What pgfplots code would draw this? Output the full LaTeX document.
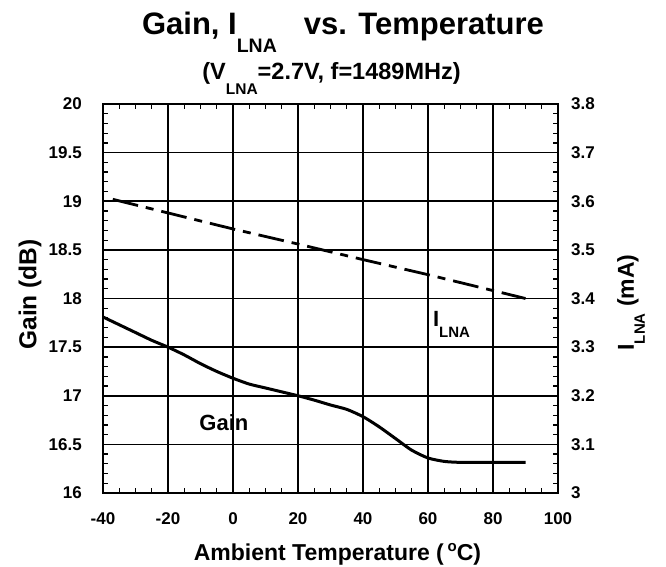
\documentclass[border=0pt]{standalone}
\usepackage{fontspec}
\setmainfont{Liberation Sans}
\usepackage{pgfplots}
\pgfplotsset{compat=1.18}
\newcommand{\fs}[1]{\fontsize{#1bp}{#1bp}\selectfont\bfseries}
\newcommand{\low}[3]{\raisebox{-#1bp}{\fs{#2}#3}}

\pgfplotstableread{
T     G
-40   17.81
-35   17.73
-30   17.65
-25   17.57
-20   17.50
-15   17.42
-10   17.33
-5    17.25
0     17.18
5     17.12
10    17.08
15    17.04
20    17.00
25    16.955
30    16.905
35    16.86
40    16.785
45    16.68
50    16.56
55    16.44
60    16.36
65    16.325
70    16.315
80    16.315
90    16.315
}\gain

\pgfplotstableread{
T     I
-37   3.604
0     3.543
20    3.512
40    3.480
60    3.449
90    3.400
}\ilna

\begin{document}
\begin{tikzpicture}
\useasboundingbox (-103bp,-74bp) rectangle (563bp,493bp);
\begin{axis}[
  name=main, at={(0,0)}, anchor=south west,
  scale only axis, width=455bp, height=389bp,
  xmin=-40, xmax=100, ymin=16, ymax=20,
  xtick={-40,-20,0,20,40,60,80,100},
  xticklabels={-40,-20,0,20,40,60,80,100},
  ytick={16,16.5,17,17.5,18,18.5,19,19.5,20},
  yticklabels={16,16.5,17,17.5,18,18.5,19,19.5,20},
  minor x tick num=3, minor y tick num=4,
  tick align=inside, major tick length=0pt, minor tick length=5bp,
  every tick/.style={black, line width=1.3bp},
  grid=major, major grid style={black, line width=1.6bp},
  axis line style={line width=2.6bp},
  axis on top,
  yticklabel pos=left,
  xticklabel style={font=\fs{17}, inner sep=0pt, anchor=base, yshift=-31bp},
  yticklabel style={font=\fs{17}, inner sep=0pt, anchor=east, xshift=-21bp},
  xlabel={Ambient Temperature (\,\raisebox{9bp}{\fs{15}o}C)},
  xlabel style={font=\fs{23}, at={(rel axis cs:0.5,0)}, anchor=base, yshift=-67bp, xshift=7bp},
  ylabel={Gain (dB)},
  ylabel style={font=\fs{24.5}, at={(rel axis cs:0,0.5)}, anchor=center, xshift=4bp, yshift=73bp},
]
\addplot[black, line width=3bp, smooth, tension=0.4] table[x=T, y=G] {\gain};
\node[font=\fs{22}] at (axis cs:-2.8,16.72) {Gain};
\node[font=\fs{22}, anchor=base west, inner sep=0pt] at (axis cs:61.5,17.71) {I\low{11}{15}{LNA}};
\end{axis}
\begin{axis}[
  at={(0,0)}, anchor=south west,
  scale only axis, width=455bp, height=389bp,
  xmin=-40, xmax=100, ymin=3, ymax=3.8,
  hide x axis, axis y line*=right,
  axis line style={draw=none},
  ytick={3,3.1,3.2,3.3,3.4,3.5,3.6,3.7,3.8},
  yticklabels={3,3.1,3.2,3.3,3.4,3.5,3.6,3.7,3.8},
  major tick length=0pt, minor tick num=0,
  ytick style={draw=none},
  yticklabel style={font=\fs{17}, inner sep=0pt, anchor=west, xshift=13bp},
  ylabel={I\low{11}{15}{LNA} (mA)},
  ylabel style={font=\fs{23}, at={(rel axis cs:1,0.5)}, anchor=center, xshift=-4bp, yshift=-73bp},
]
\addplot[black, line width=2.8bp, dash pattern=on 26bp off 8bp on 8bp off 8bp] table[x=T, y=I] {\ilna};
\end{axis}
\node[font=\fs{31}, anchor=base] at (240bp,458bp) {Gain, I\low{18}{19.5}{LNA}\hspace{27bp}vs. Temperature};
\node[font=\fs{23.5}, anchor=base] at (228.5bp,413bp) {(V\low{15}{15.5}{LNA}=2.7V, f=1489MHz)};
\end{tikzpicture}
\end{document}
